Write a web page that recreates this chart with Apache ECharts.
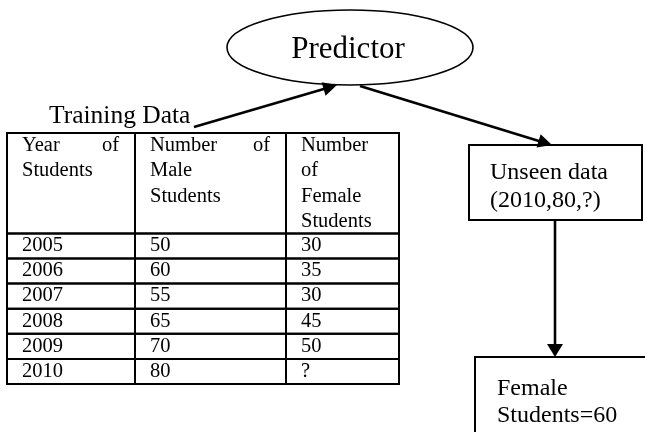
<!DOCTYPE html>
<html><head><meta charset="utf-8">
<script src="https://cdn.jsdelivr.net/npm/echarts@6/dist/echarts.min.js"></script>
<style>html,body{margin:0;padding:0;background:#fff}#c{width:645px;height:432px}</style>
</head><body><div id="c"></div>
<script>
// ---- data ----
const years = ['2005', '2006', '2007', '2008', '2009', '2010'];
const maleStudents = ['50', '60', '55', '65', '70', '80'];
const femaleStudents = ['30', '35', '30', '45', '50', '?'];
const headerYear = [['Year', 'of'], ['Students']];
const headerMale = [['Number', 'of'], ['Male'], ['Students']];
const headerFemale = [['Number'], ['of'], ['Female'], ['Students']];
const tableTitle = 'Training Data';
const predictorLabel = 'Predictor';
const unseenLines = ['Unseen data', '(2010,80,?)'];
const resultLines = ['Female', 'Students=60'];

// ---- layout (not data) ----
const FONT = '"Liberation Serif", "Times New Roman", serif';
const colEdges = [0, 128, 279, 392];
const HEADER_UNITS = 4;

const columns = [
  {header: headerYear, values: years},
  {header: headerMale, values: maleStudents},
  {header: headerFemale, values: femaleStudents}
];
const cells = [];
columns.forEach((col, c) => {
  cells.push({c: c, r0: 0, r1: HEADER_UNITS, lines: col.header});
  col.values.forEach((v, i) => {
    cells.push({c: c, r0: HEADER_UNITS + i, r1: HEADER_UNITS + i + 1, lines: [[v]]});
  });
});

function renderCell(params, api) {
  const cell = cells[params.dataIndex];
  const p0 = api.coord([colEdges[cell.c], cell.r0]);
  const p1 = api.coord([colEdges[cell.c + 1], cell.r1]);
  const children = [{
    type: 'rect',
    shape: {x: p0[0], y: p0[1], width: p1[0] - p0[0], height: p1[1] - p0[1]},
    style: {fill: 'none', stroke: '#000', lineWidth: 2}
  }];
  cell.lines.forEach((words, li) => {
    const y = p0[1] + 12.5 + li * 25.5;
    children.push({
      type: 'text',
      style: {text: words[0], x: p0[0] + 15, y: y, font: '20.5px ' + FONT,
              fill: '#000', textAlign: 'left', textVerticalAlign: 'middle'}
    });
    if (words.length > 1) {
      children.push({
        type: 'text',
        style: {text: words[1], x: p1[0] - 16, y: y, font: '20.5px ' + FONT,
                fill: '#000', textAlign: 'right', textVerticalAlign: 'middle'}
      });
    }
  });
  return {type: 'group', children: children};
}

function arrow(x1, y1, x2, y2, len, hw) {
  const dx = x2 - x1, dy = y2 - y1;
  const d = Math.sqrt(dx * dx + dy * dy);
  const ux = dx / d, uy = dy / d;
  const bx = x2 - ux * len, by = y2 - uy * len;
  const px = -uy * hw, py = ux * hw;
  return [
    {type: 'line', shape: {x1: x1, y1: y1, x2: bx + ux * 2, y2: by + uy * 2},
     style: {stroke: '#000', lineWidth: 2.6}},
    {type: 'polygon', shape: {points: [[x2, y2], [bx + px, by + py], [bx - px, by - py]]},
     style: {fill: '#000'}}
  ];
}

const graphics = [
  {type: 'ellipse', shape: {cx: 350, cy: 47.5, rx: 123, ry: 37.5},
   style: {fill: 'none', stroke: '#000', lineWidth: 1.6}},
  {type: 'text', style: {text: predictorLabel, x: 348, y: 50, font: '31px ' + FONT,
   fill: '#000', textAlign: 'center', textVerticalAlign: 'middle'}},
  {type: 'text', style: {text: tableTitle, x: 49, y: 116, font: '25.5px ' + FONT,
   fill: '#000', textAlign: 'left', textVerticalAlign: 'middle'}},
  {type: 'rect', shape: {x: 469, y: 145, width: 173, height: 75},
   style: {fill: 'none', stroke: '#000', lineWidth: 2}},
  {type: 'rect', shape: {x: 475, y: 357, width: 220, height: 120},
   style: {fill: 'none', stroke: '#000', lineWidth: 2}}
].concat(
  unseenLines.map((t, i) => ({type: 'text', style: {text: t, x: 490, y: 173 + i * 28,
    font: '24px ' + FONT, fill: '#000', textAlign: 'left', textVerticalAlign: 'middle'}})),
  resultLines.map((t, i) => ({type: 'text', style: {text: t, x: 497, y: 389 + i * 27,
    font: '24px ' + FONT, fill: '#000', textAlign: 'left', textVerticalAlign: 'middle'}})),
  arrow(194, 127, 337, 85, 14, 7),
  arrow(360, 86, 552, 145, 14, 7),
  arrow(555, 220, 555, 357, 13, 8)
);

const chart = echarts.init(document.getElementById('c'), null, {renderer: 'canvas'});
chart.setOption({
  animation: false,
  backgroundColor: '#fff',
  grid: {left: 7, top: 133, width: 392, height: 251, containLabel: false},
  xAxis: {type: 'value', min: 0, max: colEdges[colEdges.length - 1], show: false},
  yAxis: {type: 'value', min: 0, max: HEADER_UNITS + years.length, inverse: true, show: false},
  series: [{
    type: 'custom',
    clip: false,
    renderItem: renderCell,
    data: cells.map(c => [c.c, c.r0, c.r1])
  }],
  graphic: graphics
});
</script>
</body></html>
